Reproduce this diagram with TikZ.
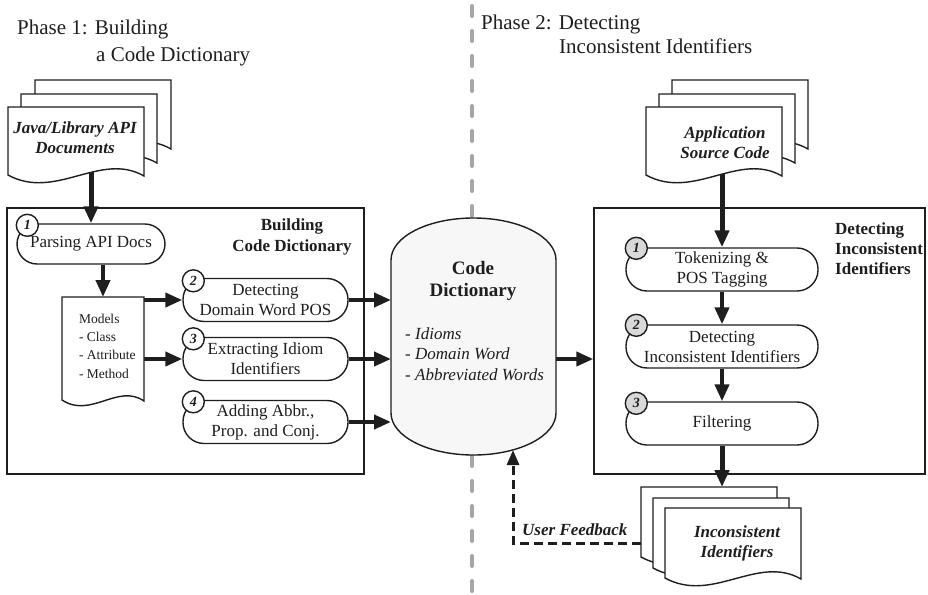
\documentclass[tikz,border=0pt]{standalone}
\usepackage{fontspec}
\setmainfont{Liberation Serif}
\newfontfamily\tnr{Liberation Serif}
\usetikzlibrary{arrows.meta,calc}
\pgfdeclarelayer{background}
\pgfdeclarelayer{arrowlayer}
\pgfdeclarelayer{doclayer}
\pgfsetlayers{background,arrowlayer,doclayer,main}
\definecolor{badgegray}{RGB}{217,217,217}
\definecolor{cylfill}{RGB}{247,247,247}
\definecolor{dashgray}{RGB}{166,166,166}
\definecolor{inkc}{RGB}{30,30,30}
\newcommand\mydocshape[5]{%
  \filldraw[docline] (#1,#2) -- ({#1+#3},#2) -- ({#1+#3},{#2+#4})
    .. controls ({#1+0.68*#3},{#2+#4-#5}) and ({#1+0.35*#3},{#2+#4+#5}) .. (#1,{#2+#4-1}) -- cycle;}
\tikzset{
  every node/.style={text=inkc},
  docline/.style={draw=inkc, fill=white, line width=1.4pt},
  stepbox/.style={draw=inkc, line width=1.4pt, fill=white, rectangle, rounded corners=21pt,
    minimum height=43pt, align=center, font={\tnr\fontsize{17}{20}\selectfont}, inner sep=0pt},
  badge/.style={circle, draw=inkc, line width=1.4pt, fill=white, minimum size=22pt, inner sep=0pt,
    font={\tnr\fontsize{14}{14}\selectfont\bfseries\itshape}},
  graybadge/.style={badge, fill=badgegray},
  arr/.style={draw=inkc, line width=4pt, -{Triangle[length=17pt,width=14pt]}},
  bigarr/.style={arr, line width=5pt},
  fbarr/.style={draw=inkc, line width=3pt, dash pattern=on 9pt off 5pt, -{Triangle[length=15pt,width=12pt]}},
  frame/.style={draw=inkc, line width=1.4pt, inner sep=0pt},
  graydash/.style={draw=dashgray, line width=4pt, dash pattern=on 10pt off 15pt, line cap=round},
  phase/.style={anchor=base west, font={\tnr\fontsize{21}{27}\selectfont}, inner sep=0pt},
  doctext/.style={align=center, font={\tnr\fontsize{17}{20}\selectfont\bfseries\itshape}, inner sep=0pt},
  boxtitle/.style={font={\tnr\fontsize{17}{21}\selectfont\bfseries}, inner sep=0pt},
  ghost/.style={inner sep=0pt, outer sep=0pt}
}
\begin{document}
\begin{tikzpicture}[x=1pt,y=-1pt]
\useasboundingbox (0,0) rectangle (928,594);

% phase titles
\node[phase] (ph1a) at (17,35) {Phase 1: Building};
\node[phase] (ph1b) at (96,62) {a Code Dictionary};
\node[phase] (ph2a) at (481,30) {Phase 2: Detecting};
\node[phase] (ph2b) at (559,53) {Inconsistent Identifiers};

% divider
\coordinate (dtop) at (472,6);
\coordinate (dbot) at (472,600);
\begin{pgfonlayer}{background}
\draw[graydash] (dtop) -- (dbot);
\end{pgfonlayer}

% frames
\node[frame, minimum width=357pt, minimum height=266pt] (lbox) at (185.5,341) {};
\node[frame, minimum width=331pt, minimum height=266pt] (rbox) at (759.5,341) {};
\node[boxtitle, align=center] (ltitle) at (292,237) {Building\\Code Dictionary};
\node[boxtitle, align=left, anchor=west, font={\tnr\fontsize{17}{20}\selectfont\bfseries}] (rtitle) at (835,249) {Detecting\\Inconsistent\\Identifiers};

% documents (anchors)
\node[doctext] (apidoc) at (75,138) {Java/Library API\\Documents};
\node[doctext] (appdoc) at (725,142.5) {Application\\Source Code};
\node[doctext] (incdoc) at (737,543) {Inconsistent\\Identifiers};
\node[ghost, minimum width=160pt, minimum height=112pt] (incstack) at (721,543) {};
\node[ghost, minimum width=82pt, minimum height=104pt] (models) at (103,349) {};
\node[ghost, anchor=west, align=left, font={\tnr\fontsize{13.5}{18.3}\selectfont}] (modtext) at (79,346) {Models\\- Class\\- Attribute\\- Method};

% left steps
\node[stepbox, minimum width=148pt, minimum height=40pt, rounded corners=20pt] (parse) at (91,244) {Parsing API Docs};
\node[stepbox, minimum width=165pt] (s2) at (265.5,300) {Detecting\\Domain Word POS};
\node[stepbox, minimum width=165pt] (s3) at (265.5,359) {Extracting Idiom\\Identifiers};
\node[stepbox, minimum width=165pt] (s4) at (265.5,422) {Adding Abbr.,\\Prop. and Conj.};
\node[badge] (b1) at ([xshift=11pt,yshift=-2pt]parse.north west) {1};
\node[badge] (b2) at ([xshift=11pt,yshift=-3pt]s2.north west) {2};
\node[badge] (b3) at ([xshift=11pt,yshift=-2pt]s3.north west) {3};
\node[badge] (b4) at ([xshift=11pt,yshift=-2pt]s4.north west) {4};

% cylinder
\node[ghost, minimum width=165pt, minimum height=237pt] (cyl) at (473.5,336.5) {};
\filldraw[fill=cylfill, draw=inkc, line width=1.4pt]
  (391,260) -- (391,413) arc[start angle=180, end angle=0, x radius=82.5, y radius=42]
  -- (556,260) arc[start angle=0, end angle=-180, x radius=82.5, y radius=42] -- cycle;
\node[font={\tnr\fontsize{19}{22}\selectfont\bfseries}, align=center, inner sep=0pt] (cyltitle) at (473,281) {Code\\Dictionary};
\node[font={\tnr\fontsize{17}{20.5}\selectfont\itshape}, align=left, anchor=west, inner sep=0pt] (cylitems) at (405,354) {- Idioms\\- Domain Word\\- Abbreviated Words};

% right steps
\node[stepbox, minimum width=192pt] (tok) at (722,269.5) {Tokenizing \&\\POS Tagging};
\node[stepbox, minimum width=192pt] (det) at (722,346.5) {Detecting\\Inconsistent Identifiers};
\node[stepbox, minimum width=192pt] (filt) at (722,423.5) {Filtering};
\node[graybadge] (g1) at ([xshift=11pt,yshift=-1pt]tok.north west) {1};
\node[graybadge] (g2) at ([xshift=11pt,yshift=-1pt]det.north west) {2};
\node[graybadge] (g3) at ([xshift=11pt,yshift=-2pt]filt.north west) {3};

% feedback label
\node[anchor=base west, inner sep=0pt, font={\tnr\fontsize{17}{20}\selectfont\bfseries\itshape}] (fblabel) at (522,535) {User Feedback};
\coordinate (fbend) at (513,450);

% arrows
\begin{pgfonlayer}{arrowlayer}
\draw[bigarr] (parse.north |- apidoc.south) -- (parse.north);
\draw[arr] (models.north |- parse.south) -- (models.north);
\draw[arr] (models.east |- s2) -- (s2.west);
\draw[arr] (models.east |- s3) -- (s3.west);
\draw[arr] (s2.east) -- (cyl.west |- s2.east);
\draw[arr] (s3.east) -- (cyl.west |- s3.east);
\draw[arr] (s4.east) -- (cyl.west |- s4.east);
\draw[arr] (cyl.east |- s3) -- (rbox.west |- s3);
\draw[bigarr] (tok.north |- appdoc.south) -- (tok.north);
\draw[arr] (tok.south) -- (det.north);
\draw[arr] (det.south) -- (filt.north);
\draw[bigarr] (filt.south) -- (filt.south |- incstack.north);
\draw[fbarr] (incstack.west) -| (fbend);
\end{pgfonlayer}

% document pages
\begin{pgfonlayer}{doclayer}
\mydocshape{35}{80}{136}{69}{25}
\mydocshape{21}{94}{136}{69}{25}
\mydocshape{8}{107}{136}{69}{25}
\mydocshape{672}{80}{136}{69}{25}
\mydocshape{659}{94}{136}{69}{25}
\mydocshape{646}{107}{136}{69}{25}
\mydocshape{641}{487}{136}{71}{25}
\mydocshape{653}{498}{136}{71}{25}
\mydocshape{665}{508}{136}{71}{25}
\mydocshape{62}{297}{82}{104}{18}
\end{pgfonlayer}
\end{tikzpicture}
\end{document}
